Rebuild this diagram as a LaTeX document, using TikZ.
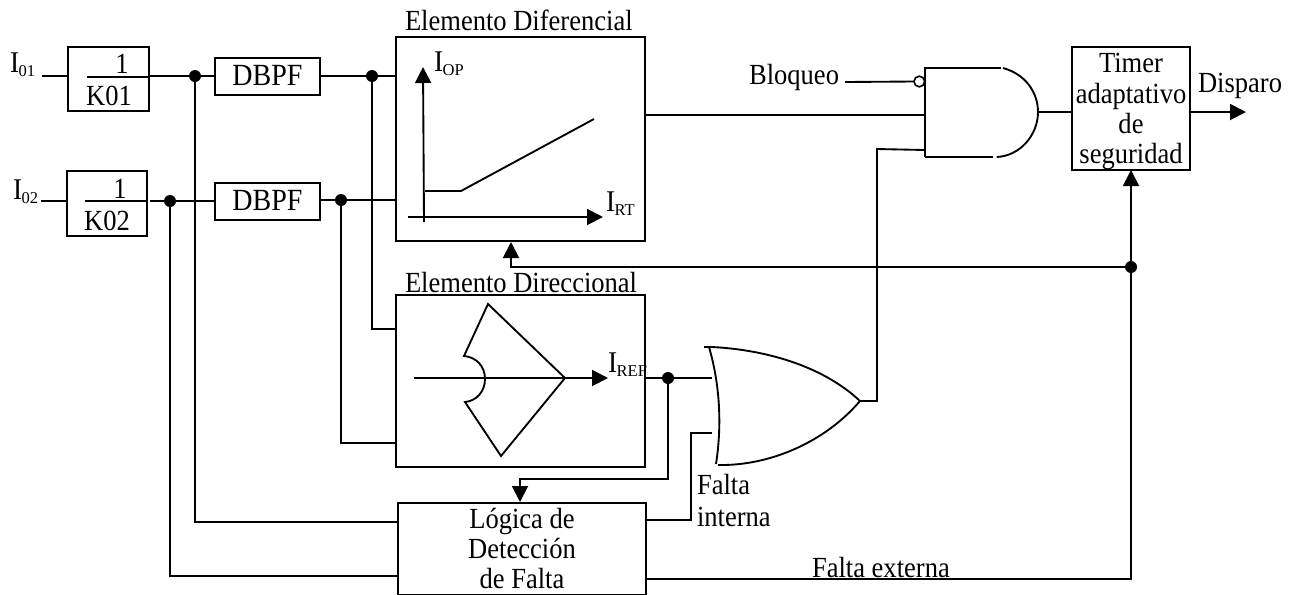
\documentclass[tikz,border=0pt]{standalone}
\usepackage{fontspec}
\usepackage{graphicx}
\setmainfont{Liberation Serif}
\usetikzlibrary{arrows.meta}
\newcommand\Tall[1]{\scalebox{1}[1.1]{#1}}
\newcommand\Isub[1]{\scalebox{1}[1.1]{\fontsize{20.5}{24}\selectfont I}\hspace{-0.3pt}\raisebox{-3.2pt}{\fontsize{12.4}{12}\selectfont #1}}
\tikzset{
  x=0.75pt,y=-0.75pt,
  wire/.style={line width=1.4pt,line cap=butt,line join=miter},
  arr/.style={wire,-{Triangle[length=12pt,width=12pt]}},
  block/.style={draw,line width=1.4pt,inner sep=0pt,outer sep=0pt,fill=white},
  dotn/.style={circle,fill=black,draw=none,minimum size=9pt,inner sep=0pt,outer sep=0pt},
  txt/.style={inner sep=0pt,outer sep=0pt,anchor=base west,font=\fontsize{19.9}{24}\selectfont},
  ctxt/.style={txt,anchor=base},
}
\begin{document}
\begin{tikzpicture}
\useasboundingbox (0,0) rectangle (1292,594);
% Blocks
\node[block,minimum width=60.75pt,minimum height=48pt] (k1) at (108.5,79) {};
\node[block,minimum width=60pt,minimum height=48.75pt] (k2) at (107,203.5) {};
\node[block,minimum width=78.75pt,minimum height=27.75pt] (f1) at (267.5,76.5) {};
\node[block,minimum width=78.75pt,minimum height=27.75pt] (f2) at (267.5,201.5) {};
\node[block,minimum width=186.75pt,minimum height=153pt] (dif) at (520.5,139) {};
\node[block,minimum width=186.75pt,minimum height=129pt] (dir) at (520.5,381) {};
\node[block,minimum width=186pt,minimum height=69pt] (log) at (522,549) {};
\node[block,minimum width=88.75pt,minimum height=92.25pt] (tim) at (1131,108.5) {};
% Texts
\node[txt] (ti1) at (10,72) {\Isub{01}};
\node[txt] (ti2) at (13,199) {\Isub{02}};
\node[ctxt] (n1) at (122,73) {\Tall{1}};
\node[ctxt] (kk1) at (109,105) {\Tall{K01}};
\node[ctxt] (n2) at (120,198) {\Tall{1}};
\node[ctxt] (kk2) at (107,230) {\Tall{K02}};
\node[ctxt,font=\fontsize{21}{24}\selectfont] (d1) at (267.5,85) {\Tall{DBPF}};
\node[ctxt,font=\fontsize{21}{24}\selectfont] (d2) at (267.5,210) {\Tall{DBPF}};
\node[txt] (tdif) at (405,30) {\Tall{Elemento Diferencial}};
\node[txt] (tdir) at (405,292) {\Tall{Elemento Direccional}};
\node[txt] (top) at (434,71) {\Isub{OP}};
\node[txt] (trt) at (606,211) {\Isub{RT}};
\node[txt] (tref) at (608,372) {\Isub{REF}};
\node[txt,anchor=base east] (blo) at (839,84) {\Tall{Bloqueo}};
\node[txt] (dis) at (1198,92) {\Tall{Disparo}};
\node[ctxt] (t1) at (1131,72) {\Tall{Timer}};
\node[ctxt] (t2) at (1131,103) {\Tall{adaptativo}};
\node[ctxt] (t3) at (1131,133) {\Tall{de}};
\node[ctxt] (t4) at (1131,163) {\Tall{seguridad}};
\node[ctxt] (l1) at (522,528) {\Tall{Lógica de}};
\node[ctxt] (l2) at (522,558) {\Tall{Detección}};
\node[ctxt] (l3) at (522,588) {\Tall{de Falta}};
\node[txt] (fi1) at (697,494) {\Tall{Falta}};
\node[txt] (fi2) at (697,526) {\Tall{interna}};
\node[txt] (fe) at (812,577) {\Tall{Falta externa}};
% Fixed points
\coordinate (in1) at (42,76);
\coordinate (in2) at (41,201);
\node[dotn] (a1) at (195,76) {};
\node[dotn] (a2) at (170,201) {};
\node[dotn] (b1) at (372,76) {};
\node[dotn] (b2) at (341,200) {};
\node[dotn] (c) at (668,378) {};
\node[dotn] (e) at (1131,267) {};
% AND gate
\coordinate (ag1) at (925,68);
\coordinate (ag2) at (925,157);
\coordinate (ago) at (1038,112);
\draw[wire] (ag2) -- (ag1) -- (1000.7,68);
\draw[wire] (1003,68) .. controls (1025,74) and (1038,92) .. (ago) .. controls (1038,135) and (1020,156) .. (996.7,157);
\draw[wire] (992.7,157) -- (ag2);
\node[circle,draw,line width=1.2pt,fill=white,minimum size=8pt,inner sep=0pt,outer sep=0pt] (bub) at (919.3,81.5) {};
% OR gate
\coordinate (og1) at (704,347);
\coordinate (ogo) at (860,401);
\draw[wire] (og1) -- (712,347) .. controls (770,350) and (825,368) .. (ogo);
\draw[wire] (709,347) .. controls (720,385) and (722,425) .. (716,464);
\draw[wire] (718,465) .. controls (770,466) and (825,442) .. (ogo);
% Graph curves
\draw[arr] (424,222) -- (423,67);
\draw[arr] (408,217) -- (603,217);
\draw[wire] (425,191) -- (461,191) -- (594,119);
\draw[wire] (488,304) -- (464,356) .. controls (476,357) and (485,366) .. (485,379) .. controls (485,392) and (476,401) .. (465,402) -- (501,456) -- (565,378) -- cycle;
\draw[arr] (414,378) -- (608,378);
% Connectors
\draw[wire] (in1) -- (k1.west |- in1);
\draw[wire] (in2) -- (k2.west |- in2);
\draw[wire] (87,77) -- (k1.east |- 0,77);
\draw[wire] (85,201) -- (k2.east |- 0,201);
\draw[wire] (k1.east |- a1) -- (a1) -- (f1.west |- a1);
\draw[wire] (150,201) -- (a2) -- (f2.west |- a2);
\draw[wire] (f1.east |- b1) -- (b1) -- (dif.west |- b1);
\draw[wire] (f2.east |- b2) -- (b2) -- (dif.west |- b2);
\draw[wire] (a1) |- (log.west |- 0,522);
\draw[wire] (a2) |- (log.west |- 0,576);
\draw[wire] (b1) |- (dir.west |- 0,329);
\draw[wire] (b2) |- (dir.west |- 0,443);
\draw[wire] (dir.east |- c) -- (c) -- (712,378);
\draw[arr] (c) |- (520,479) -- (520,502);
\draw[wire] (log.east |- 0,520) -| (691,433) -- (712,433);
\draw[wire] (log.east |- 0,579) -| (e);
\draw[arr] (e) -- (tim.south -| e);
\draw[arr] (e) -| (511,242);
\draw[wire] (dif.east |- 0,115) -- (ag1 |- 0,115);
\draw[wire] (845,82) -- (bub.west);
\draw[wire] (ogo) -- (877,401) -- (877,149) -- (ag1 |- 0,150);
\draw[wire] (ago) -- (tim.west |- ago);
\coordinate (out) at (1246,112);
\draw[arr] (tim.east |- out) -- (out);
\end{tikzpicture}
\end{document}
